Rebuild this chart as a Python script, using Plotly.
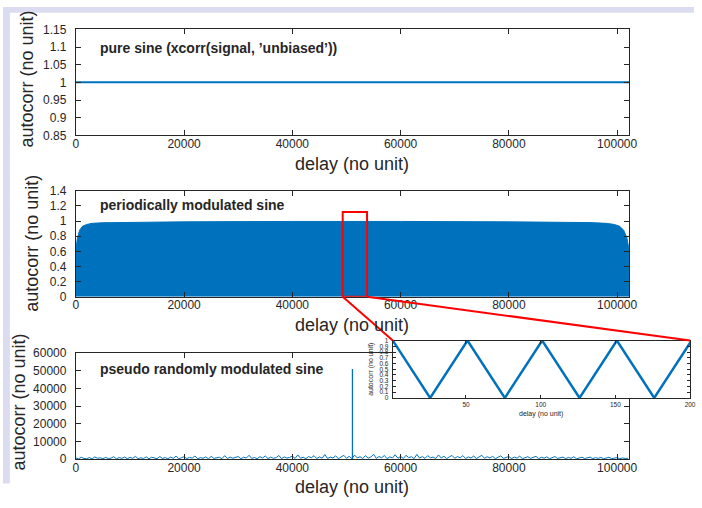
import plotly.graph_objects as go

# ---------------- data ----------------
delay_max = 102199

# panel 1: pure sine, unbiased xcorr -> constant 1
pure_delay = [0, 102199]
pure_autocorr = [1.0, 1.0]

# panel 2: periodically modulated sine (envelope of the dense oscillation)
env_delay = [0, 300, 700, 1200, 2000, 3000, 5000, 10000, 20000, 40000, 51100,
             60000, 80000, 90000, 95000, 98000, 99500, 100500, 101200, 101800, 102199]
env_autocorr = [0.62, 0.78, 0.88, 0.93, 0.955, 0.97, 0.978, 0.985, 0.99, 0.995, 1.0,
                0.995, 0.99, 0.985, 0.98, 0.97, 0.955, 0.93, 0.88, 0.78, 0.62]

# panel 3: pseudo randomly modulated sine
noise_step = 500
noise_autocorr = [
    700, 200, 1100, 400, 300, 900, 150, 1300, 500, 800, 250, 1000, 350, 600, 1400, 200, 900, 450, 1200, 300,
    1000, 500, 1600, 250, 800, 400, 1300, 200, 1100, 650, 300, 1500, 400, 900, 250, 1200, 500, 1700, 300, 800,
    1400, 350, 1000, 600, 1800, 250, 900, 500, 1300, 200, 1600, 450, 700, 1100, 300, 2000, 400, 1200, 550, 900,
    1500, 300, 1100, 650, 2200, 400, 1000, 250, 1400, 700, 1800, 350, 1200, 500, 900, 2100, 300, 1300, 600, 1000,
    1700, 400, 2400, 550, 1100, 300, 1500, 800, 2000, 350, 1300, 600, 2600, 400, 1200, 700, 1900, 300, 1400, 2200,
    500, 1600, 350, 2300, 700, 1400, 400, 2000, 600, 1200, 2800, 450, 1500, 800, 2100, 300, 1300, 700, 2500, 500,
    1600, 400, 2200, 900, 1400, 350, 2700, 600, 1500, 450, 2000, 800, 1200, 400, 2400, 650, 1700, 300, 1300, 2100,
    500, 1500, 800, 2000, 400, 1300, 650, 1800, 350, 1100, 2200, 500, 1400, 700, 1600, 300, 1200, 1900, 450, 1000,
    1500, 350, 1200, 600, 1700, 300, 1000, 1400, 450, 900, 1600, 300, 1100, 550, 1300, 250, 900, 1500, 400, 800,
    1200, 300, 1000, 500, 1400, 250, 800, 1100, 350, 700, 1200, 300, 900, 450, 1000, 200, 700, 1100, 300, 600,
    900, 250, 700, 400, 500,
]
noise_delay = [i * noise_step for i in range(len(noise_autocorr))]
spike_delay = [51100, 51100]
spike_autocorr = [0, 51100]

# inset: zoom of panel 2
inset_delay = [1, 26, 51, 76, 101, 126, 151, 176, 201]
inset_autocorr = [1, 0, 1, 0, 1, 0, 1, 0, 1]

# zoom rectangle (panel 2 data coords)
zoom_x0, zoom_x1, zoom_top = 49300, 53800, 1.12

# ticks
x_ticks = [0, 20000, 40000, 60000, 80000, 100000]
x_ticktext = ["0", "20000", "40000", "60000", "80000", "100000"]
y1_ticks = [0.85, 0.9, 0.95, 1.0, 1.05, 1.1, 1.15]
y1_ticktext = ["0.85", "0.9", "0.95", "1", "1.05", "1.1", "1.15"]
y2_ticks = [0, 0.2, 0.4, 0.6, 0.8, 1.0, 1.2, 1.4]
y2_ticktext = ["0", "0.2", "0.4", "0.6", "0.8", "1", "1.2", "1.4"]
y3_ticks = [0, 10000, 20000, 30000, 40000, 50000, 60000]
y3_ticktext = ["0", "10000", "20000", "30000", "40000", "50000", "60000"]
xi_ticks = [50, 100, 150, 200]
xi_ticktext = ["50", "100", "150", "200"]
yi_ticks = [0, 0.1, 0.2, 0.3, 0.4, 0.5, 0.6, 0.7, 0.8, 0.9, 1.0]
yi_ticktext = ["0", "0.1", "0.2", "0.3", "0.4", "0.5", "0.6", "0.7", "0.8", "0.9", "1"]

panel_titles = ["pure sine (xcorr(signal, ’unbiased’))",
                "periodically modulated sine",
                "pseudo randomly modulated sine"]

# ---------------- layout helpers ----------------
W, H = 702, 508
BLUE = "#0072BD"
DARK = "#262626"
FONT = "Liberation Sans, Arial, Helvetica, sans-serif"


def px(x):
    return x / W


def py(y):
    return 1 - y / H


x_dom = [px(74), px(636)]
p1_dom = [py(132), py(23)]
p2_dom = [py(298), py(189)]
p3_dom = [py(465), py(356)]
in_xdom = [px(396), px(698)]
in_ydom = [py(402), py(343)]
x_range = [0, delay_max]
xi_range = [1, 200]

fig = go.Figure()
fig.add_trace(go.Scatter(x=pure_delay, y=pure_autocorr, mode="lines",
                         line=dict(color=BLUE, width=2), xaxis="x", yaxis="y"))
fig.add_trace(go.Scatter(x=env_delay, y=env_autocorr, mode="lines", fill="tozeroy",
                         fillcolor=BLUE, line=dict(color=BLUE, width=1), xaxis="x2", yaxis="y2"))
fig.add_trace(go.Scatter(x=noise_delay, y=noise_autocorr, mode="lines",
                         line=dict(color=BLUE, width=1), xaxis="x3", yaxis="y3"))
fig.add_trace(go.Scatter(x=spike_delay, y=spike_autocorr, mode="lines",
                         line=dict(color=BLUE, width=1.3), xaxis="x3", yaxis="y3"))
fig.add_trace(go.Scatter(x=inset_delay, y=inset_autocorr, mode="lines",
                         line=dict(color=BLUE, width=2.5), xaxis="x4", yaxis="y4"))


def ax_style(size=12, ticklen=5, standoff=6):
    return dict(showline=True, linecolor=DARK, linewidth=1, mirror="ticks",
                ticks="inside", ticklen=ticklen, tickcolor=DARK, tickwidth=1,
                showgrid=False, zeroline=False,
                tickfont=dict(family=FONT, size=size, color=DARK),
                ticklabelstandoff=standoff)


fig.update_layout(
    width=W, height=H, margin=dict(l=0, r=0, t=0, b=0),
    paper_bgcolor="white", plot_bgcolor="white", showlegend=False,
    xaxis=dict(domain=x_dom, range=x_range, anchor="y", tickvals=x_ticks, ticktext=x_ticktext, **ax_style(standoff=-3)),
    yaxis=dict(domain=p1_dom, range=[0.85, 1.15], anchor="x", tickvals=y1_ticks, ticktext=y1_ticktext, **ax_style()),
    xaxis2=dict(domain=x_dom, range=x_range, anchor="y2", tickvals=x_ticks, ticktext=x_ticktext, **ax_style(standoff=-3)),
    yaxis2=dict(domain=p2_dom, range=[0, 1.4], anchor="x2", tickvals=y2_ticks, ticktext=y2_ticktext, **ax_style()),
    xaxis3=dict(domain=x_dom, range=x_range, anchor="y3", tickvals=x_ticks, ticktext=x_ticktext, **ax_style(standoff=-3)),
    yaxis3=dict(domain=p3_dom, range=[0, 60000], anchor="x3", tickvals=y3_ticks, ticktext=y3_ticktext, **ax_style()),
    xaxis4=dict(domain=in_xdom, range=xi_range, anchor="y4", tickvals=xi_ticks, ticktext=xi_ticktext,
                **ax_style(size=6.5, ticklen=3, standoff=0)),
    yaxis4=dict(domain=in_ydom, range=[0, 1], anchor="x4", tickvals=yi_ticks, ticktext=yi_ticktext,
                **ax_style(size=6.5, ticklen=3, standoff=2)),
)

# background strips of the slide
LAV = "#dcdcf0"
shapes = [
    dict(type="rect", xref="paper", yref="paper", x0=0, x1=1, y0=py(6), y1=1,
         fillcolor=LAV, line=dict(width=0), layer="below"),
    dict(type="rect", xref="paper", yref="paper", x0=0, x1=px(7), y0=py(490), y1=1,
         fillcolor=LAV, line=dict(width=0), layer="below"),
    # zoom rectangle
    dict(type="rect", xref="x2", yref="y2", x0=zoom_x0, x1=zoom_x1, y0=0, y1=zoom_top,
         line=dict(color="red", width=2), fillcolor="rgba(0,0,0,0)"),
]


def to_paper_x(v):
    return x_dom[0] + (v - x_range[0]) / (x_range[1] - x_range[0]) * (x_dom[1] - x_dom[0])


shapes.append(dict(type="line", xref="paper", yref="paper",
                   x0=to_paper_x(zoom_x0), y0=p2_dom[0], x1=in_xdom[0], y1=in_ydom[1],
                   line=dict(color="red", width=2)))
shapes.append(dict(type="line", xref="paper", yref="paper",
                   x0=to_paper_x(zoom_x1), y0=p2_dom[0], x1=in_xdom[1], y1=in_ydom[1],
                   line=dict(color="red", width=2)))
fig.update_layout(shapes=shapes)

ann = []
# y titles
for xc, yc in [(24, 74), (30, 243), (16, 406)]:
    ann.append(dict(text="autocorr (no unit)", x=px(xc), y=py(yc), xref="paper", yref="paper",
                    textangle=-90, showarrow=False, xanchor="center", yanchor="middle",
                    font=dict(family=FONT, size=18, color=DARK)))
# x titles
for yc in [161, 327, 494]:
    ann.append(dict(text="delay (no unit)", x=px(355), y=py(yc), xref="paper", yref="paper",
                    showarrow=False, xanchor="center", yanchor="middle",
                    font=dict(family=FONT, size=18, color=DARK)))
# panel labels
for t, yc in zip(panel_titles, [42, 204, 372]):
    ann.append(dict(text="<b>" + t + "</b>", x=px(97), y=py(yc), xref="paper", yref="paper",
                    showarrow=False, xanchor="left", yanchor="middle",
                    font=dict(family=FONT, size=14, color=DARK)))
# inset titles
ann.append(dict(text="autocorr (no unit)", x=px(374), y=py(373), xref="paper", yref="paper",
                textangle=-90, showarrow=False, xanchor="center", yanchor="middle",
                font=dict(family=FONT, size=7, color=DARK)))
ann.append(dict(text="delay (no unit)", x=px(547), y=py(419), xref="paper", yref="paper",
                showarrow=False, xanchor="center", yanchor="middle",
                font=dict(family=FONT, size=7, color=DARK)))
fig.update_layout(annotations=ann)

fig.write_html("out.html", config={"displayModeBar": False},
               post_script="document.body.style.margin='0';document.body.style.overflow='hidden';")
